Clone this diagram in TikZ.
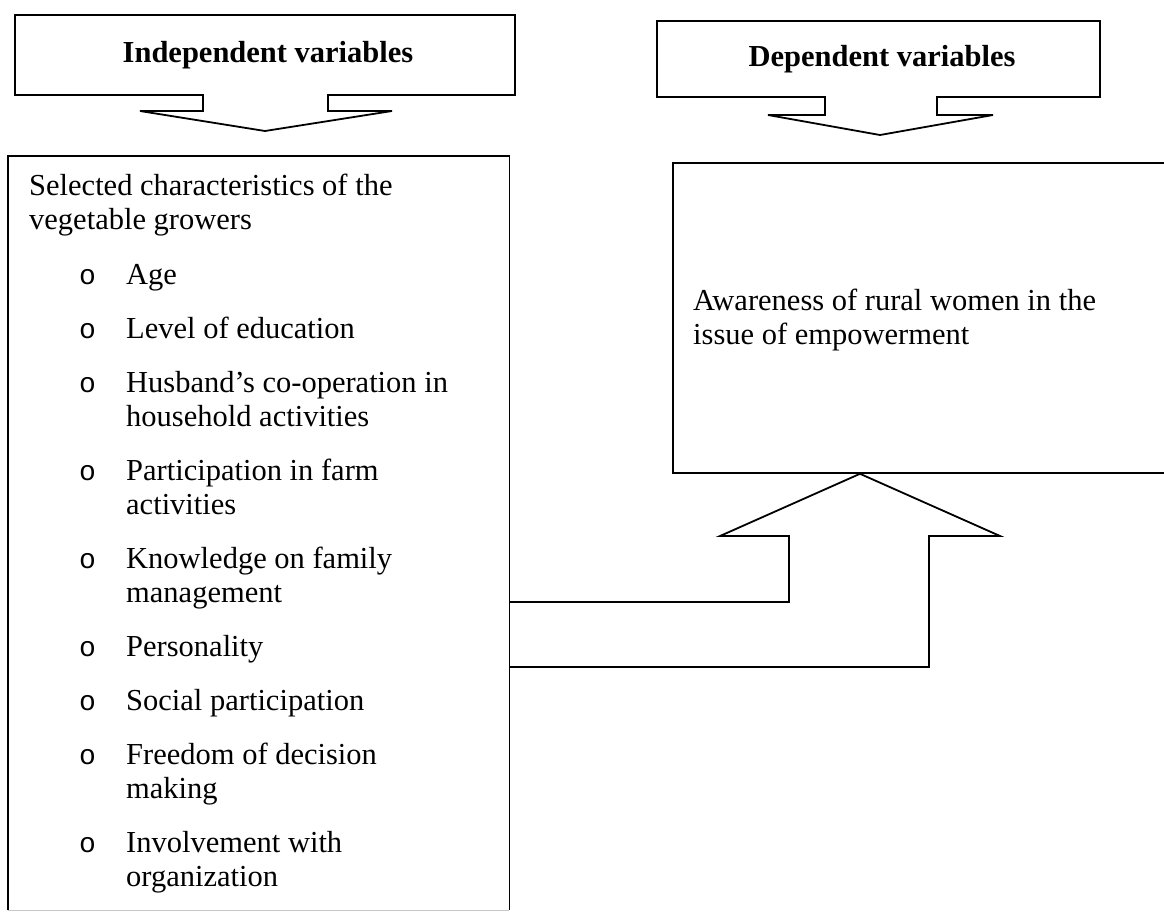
\documentclass[tikz,border=0pt]{standalone}
\usepackage{fontspec}
\setmainfont{Liberation Serif}
\newfontfamily\bulletfont{Liberation Mono}
\newcommand{\bodyfont}{\fontsize{30.5}{34}\selectfont}
\begin{document}
\begin{tikzpicture}[x=1pt,y=-1pt,
  outline/.style={draw=black, line width=1.8pt, line join=miter},
  ln/.style={anchor=base west, inner sep=0pt, font=\bodyfont},
  bul/.style={anchor=base west, inner sep=0pt, font=\bulletfont\fontsize{28}{34}\selectfont},
  ttl/.style={inner sep=0pt, font=\bodyfont\bfseries}]
\useasboundingbox (0,0) rectangle (1164,916);
\clip (0,0) rectangle (1164,916);
\fill[white] (0,0) rectangle (1164,916);

% callout: independent variables
\draw[outline] (15,15) -- (515,15) -- (515,95) -- (328,95) -- (328,111) -- (392,111)
  -- (265,131) -- (140,111) -- (203,111) -- (203,95) -- (15,95) -- cycle;
\node[ttl] (ivt) at (268,55) {Independent variables};

% callout: dependent variables
\draw[outline] (657,21) -- (1100,21) -- (1100,97) -- (937,97) -- (937,115) -- (993,115)
  -- (880,135) -- (768,115) -- (825,115) -- (825,97) -- (657,97) -- cycle;
\node[ttl] (dvt) at (882,59) {Dependent variables};

% boxes
\node[anchor=north west, minimum width=501pt, minimum height=754pt, inner sep=0pt] (L) at (8,156) {};
\draw[outline] (L.south west) -- (L.north west) -- (L.north east) -- (L.south east);
\draw[gray!45, line width=1.2pt] (L.south west) -- (L.south east);
\node[outline, anchor=north west, minimum width=500pt, minimum height=310pt, inner sep=0pt] (R) at (672,162) {};

% block arrow connector
\coordinate (ya) at (0,602);
\coordinate (yb) at (0,667);
\coordinate (xt) at (860,0);
\coordinate (tip) at (R.south -| xt);
\draw[outline] (L.east |- ya) -- (789,602) -- (789,536) -- (720,536) -- (tip)
  -- (1000,536) -- (929,536) -- (929,667) -- (L.east |- yb);

% left box text
\node[ln] (h1) at (29,195) {Selected characteristics of the};
\node[ln] (h2) at (29,229) {vegetable growers};

\node[bul] (b1) at (79,284) {o}; \node[ln] (t1) at (126,284) {Age};
\node[bul] (b2) at (79,338) {o}; \node[ln] (t2) at (126,338) {Level of education};
\node[bul] (b3) at (79,392) {o}; \node[ln] (t3a) at (126,392) {Husband’s co-operation in};
\node[ln] (t3b) at (126,426) {household activities};
\node[bul] (b4) at (79,480) {o}; \node[ln] (t4a) at (126,480) {Participation in farm};
\node[ln] (t4b) at (126,514) {activities};
\node[bul] (b5) at (79,568) {o}; \node[ln] (t5a) at (126,568) {Knowledge on family};
\node[ln] (t5b) at (126,602) {management};
\node[bul] (b6) at (79,656) {o}; \node[ln] (t6) at (126,656) {Personality};
\node[bul] (b7) at (79,710) {o}; \node[ln] (t7) at (126,710) {Social participation};
\node[bul] (b8) at (79,764) {o}; \node[ln] (t8a) at (126,764) {Freedom of decision};
\node[ln] (t8b) at (126,798) {making};
\node[bul] (b9) at (79,852) {o}; \node[ln] (t9a) at (126,852) {Involvement with};
\node[ln] (t9b) at (126,886) {organization};

% right box text
\node[ln] (r1) at (693,310) {Awareness of rural women in the};
\node[ln] (r2) at (693,344) {issue of empowerment};
\end{tikzpicture}
\end{document}
